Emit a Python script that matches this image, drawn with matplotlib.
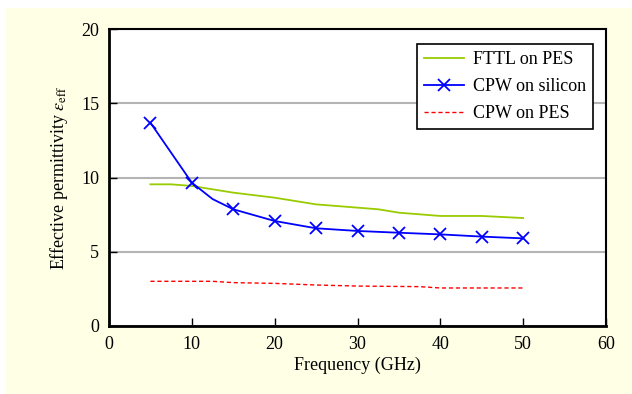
import matplotlib
matplotlib.use('Agg')
import matplotlib.pyplot as plt
from matplotlib.patches import Rectangle

fttl_freq = [5, 7.5, 10, 15, 20, 25, 30, 32.5, 35, 40, 45, 50]
fttl_eps = [9.54, 9.54, 9.43, 8.98, 8.64, 8.19, 7.97, 7.86, 7.63, 7.41, 7.41, 7.27]

si_freq = [5, 10, 12.5, 15, 20, 25, 30, 35, 40, 45, 50]
si_eps = [13.69, 9.65, 8.55, 7.86, 7.07, 6.58, 6.40, 6.28, 6.17, 6.02, 5.90]
si_marks = [0, 1, 3, 4, 5, 6, 7, 8, 9, 10]

pes_freq = [5, 12.5, 15, 20, 25, 30, 37.5, 40, 50]
pes_eps = [3.01, 3.01, 2.92, 2.87, 2.76, 2.69, 2.65, 2.56, 2.56]

x_ticks = [0, 10, 20, 30, 40, 50, 60]
y_ticks = [0, 5, 10, 15, 20]

plt.rcParams['font.family'] = ['Liberation Serif', 'DejaVu Serif']
plt.rcParams['mathtext.fontset'] = 'stix'

fig = plt.figure(figsize=(6.32, 3.94), dpi=100, facecolor='white')
# cream panel behind the chart, white margin top/left
fig.patches.append(Rectangle((6 / 632, 0), 1, 1 - 8 / 394, transform=fig.transFigure,
                             facecolor='#FFFFE5', edgecolor='none', zorder=-5))

ax = fig.add_axes([109 / 632, 1 - 326 / 394, 497 / 632, 297 / 394])
ax.set_facecolor('white')

ax.plot(fttl_freq, fttl_eps, color='#99CC00', lw=1.3, label='FTTL on PES')
ax.plot(si_freq, si_eps, color='#0000FF', lw=1.3, marker='x', markevery=si_marks,
        markersize=9, markeredgewidth=1.3, label='CPW on silicon')
ax.plot(pes_freq, pes_eps, color='#FF0000', lw=1.0, ls=(0, (3, 2)), label='CPW on PES')

ax.set_xlim(0, 60)
ax.set_ylim(0, 20)
ax.set_xticks(x_ticks)
ax.set_yticks(y_ticks)
ax.yaxis.grid(True, color='#B4B4B4', lw=1.5)
ax.set_axisbelow(True)
ax.tick_params(direction='in', length=6, width=1, labelsize=13, pad=7)

for side in ['left', 'bottom']:
    ax.spines[side].set_linewidth(2)
for side in ['top', 'right']:
    ax.spines[side].set_linewidth(1.5)

ax.set_xlabel('Frequency (GHz)', fontsize=13, labelpad=3)
ax.set_ylabel(r'Effective permittivity $\mathit{\varepsilon}_{\mathrm{eff}}$', fontsize=13, labelpad=8)

leg = ax.legend(loc='upper right', bbox_to_anchor=(0.974, 0.95), fontsize=13,
                fancybox=False, framealpha=1, edgecolor='black', handlelength=2.2,
                borderpad=0.4, labelspacing=0.55, handletextpad=0.5, borderaxespad=0)
leg.get_frame().set_linewidth(1.2)

fig.savefig('out.png', dpi=100, facecolor=fig.get_facecolor())
